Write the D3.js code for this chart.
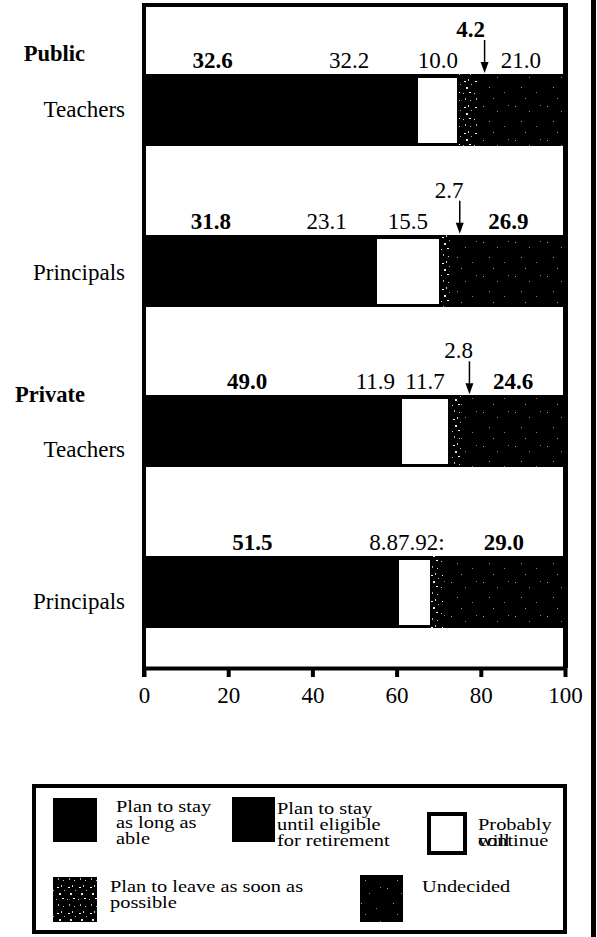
<!DOCTYPE html>
<html>
<head>
<meta charset="utf-8">
<script src="https://cdn.jsdelivr.net/npm/d3@7"></script>
<style>
  html, body { margin: 0; padding: 0; background: #fff; }
  svg { display: block; }
  text { font-family: "Liberation Serif", "Times New Roman", serif; fill: #000; }
</style>
</head>
<body>
<svg id="chart" width="597" height="937"></svg>
<script>
// ---------------- DATA ----------------
const rowKeys = ["Public Teachers", "Public Principals", "Private Teachers", "Private Principals"];
const rowNames = ["Teachers", "Principals", "Teachers", "Principals"];
const groupNames = ["Public", "Private"];
const seriesNames = ["Plan to stay as long as able", "Plan to stay until eligible for retirement",
                     "Probably will continue", "Plan to leave as soon as possible", "Undecided"];
const stayAsLongAsAble    = [32.6, 31.8, 49.0, 51.5];
const stayUntilRetirement = [32.2, 23.1, 11.9, 8.8];
const probablyContinue    = [10.0, 15.5, 11.7, 7.9];
const leaveAsSoon         = [4.2, 2.7, 2.8, 2.8];
const undecided           = [21.0, 26.9, 24.6, 29.0];
const tickValues = [0, 20, 40, 60, 80, 100];
// printed label for the crowded middle segments of the last bar (as in the source)
const mergedLabels = [null, null, null, "8.87.92:"];

// ---------------- LAYOUT ----------------
const W = 597, H = 937;
const plot = { left: 144, right: 565, top: 5, axisY: 668 };
const barH = 72;
const rowLabelOffset = [7, 9, 26, 17];   // baseline offset from bar centre
const groupLabelY = [61, 402];
const fontMain = 23;

const svg = d3.select("#chart");

// patterns (sparse white specks on black, like the scanned shading)
const defs = svg.append("defs");
function speckle(id, dots, w, h) {
  const p = defs.append("pattern").attr("id", id).attr("patternUnits", "userSpaceOnUse")
    .attr("width", w).attr("height", h);
  p.append("rect").attr("width", w).attr("height", h).attr("fill", "#000");
  dots.forEach(d => p.append("rect").attr("x", d[0]).attr("y", d[1])
    .attr("width", d[2]).attr("height", d[3]).attr("fill", "#fff").attr("opacity", d[4] || 1));
}
speckle("leavePat", [[2,3,2,1],[6,1,1,2,0.8],[4,9,2,2,0.9],[9,6,1,1,0.7],[1,15,1,1,0.8],[7,14,2,1],[3,20,1,2,0.7],[8,22,1,1,0.8]], 11, 26);
speckle("undecPat", [[3,4,1,1,0.7],[17,9,1,1,0.55],[9,19,1,1,0.65],[24,24,1,1,0.5],[13,30,1,1,0.6],[28,3,1,1,0.5]], 32, 34);

const fills = ["#000", "#000", "#000", "url(#leavePat)", "url(#undecPat)"];

// table for stacking
const table = rowKeys.map((k, i) => ({
  key: k,
  s0: stayAsLongAsAble[i], s1: stayUntilRetirement[i], s2: probablyContinue[i],
  s3: leaveAsSoon[i], s4: undecided[i]
}));
const keys = ["s0", "s1", "s2", "s3", "s4"];
const stacked = d3.stack().keys(keys)(table);

const x = d3.scaleLinear().domain([0, 100]).range([plot.left, plot.right]);
const yc = d3.scalePoint().domain(rowKeys).range([110, 592]);
const barTop = k => yc(k) - barH / 2;

// bars
const gBars = svg.append("g").attr("shape-rendering", "crispEdges");
stacked.forEach((layer, si) => {
  gBars.selectAll(null).data(layer).enter().append("rect")
    .attr("x", d => x(d[0]))
    .attr("y", d => barTop(d.data.key))
    .attr("width", d => x(d[1]) - x(d[0]) + (si < 4 ? 0.8 : 0))
    .attr("height", barH)
    .attr("fill", fills[si]);
  if (si === 2) {
    gBars.selectAll(null).data(layer).enter().append("rect")
      .attr("x", d => x(d[0]) + 1.5)
      .attr("y", d => barTop(d.data.key) + 4)
      .attr("width", d => x(d[1]) - x(d[0]) - 3)
      .attr("height", barH - 7)
      .attr("fill", "#fff");
  }
});

// frame
const frame = svg.append("g").attr("fill", "#000");
frame.append("rect").attr("x", plot.left - 2).attr("y", plot.top - 2).attr("width", 4).attr("height", plot.axisY - plot.top + 11);
frame.append("rect").attr("x", plot.left - 2).attr("y", plot.top - 2).attr("width", plot.right - plot.left + 4).attr("height", 4);
frame.append("rect").attr("x", plot.right - 2).attr("y", plot.top - 2).attr("width", 5).attr("height", plot.axisY - plot.top + 2);
// page edge line
svg.append("rect").attr("x", 591).attr("y", 0).attr("width", 5).attr("height", H).attr("fill", "#000");

// axis
const axis = d3.axisBottom(x).tickValues(tickValues).tickSize(9).tickSizeOuter(0).tickFormat(d3.format("d"));
const gAxis = svg.append("g").attr("transform", `translate(0,${plot.axisY})`).call(axis);
gAxis.select(".domain").attr("stroke", "#000").attr("stroke-width", 4);
gAxis.selectAll(".tick line").attr("stroke", "#000").attr("stroke-width", 4);
gAxis.selectAll(".tick text").attr("y", 35).attr("dy", null)
  .attr("font-size", fontMain).attr("font-family", "Liberation Serif").attr("fill", "#000");

// value labels
const gLab = svg.append("g").attr("font-size", fontMain).attr("text-anchor", "middle");
const fmt = d3.format(".1f");
stacked.forEach((layer, si) => {
  layer.forEach((d, ri) => {
    const t = barTop(d.data.key);
    const cx = x((d[0] + d[1]) / 2);
    if (si === 3) {
      if (mergedLabels[ri]) return;
      const ax = x(d[1]) + 8;
      gLab.append("text").attr("x", cx + 3).attr("y", t - 37).text(fmt(d[1] - d[0]))
        .attr("font-weight", ri === 0 ? "bold" : "normal");
      gLab.append("line").attr("x1", ax).attr("x2", ax).attr("y1", t - 34).attr("y2", t - 8)
        .attr("stroke", "#000").attr("stroke-width", 1.5);
      gLab.append("path").attr("d", `M${ax - 4},${t - 12}L${ax + 4},${t - 12}L${ax},${t - 1}Z`).attr("fill", "#000");
      return;
    }
    if ((si === 1 || si === 2) && mergedLabels[ri]) return;
    const bold = si === 0 || (si === 4 && ri > 0);
    gLab.append("text").attr("x", cx).attr("y", t - 6).text(fmt(d[1] - d[0]))
      .attr("font-weight", bold ? "bold" : "normal");
  });
});
mergedLabels.forEach((m, ri) => {
  if (!m) return;
  const k = rowKeys[ri];
  const a = stacked[1][ri][0], b = stacked[3][ri][1];
  gLab.append("text").attr("x", x((a + b) / 2) + 5).attr("y", barTop(k) - 6).text(m);
});

// row labels
const gRow = svg.append("g").attr("font-size", fontMain);
rowKeys.forEach((k, i) => {
  gRow.append("text").attr("x", 125).attr("y", yc(k) + rowLabelOffset[i]).attr("text-anchor", "end").text(rowNames[i]);
});
groupNames.forEach((g, i) => {
  gRow.append("text").attr("x", 85).attr("y", groupLabelY[i]).attr("text-anchor", "end")
    .attr("font-weight", "bold").attr("font-size", 22.5).text(g);
});

// legend
const leg = svg.append("g");
leg.append("rect").attr("x", 34).attr("y", 786).attr("width", 531).attr("height", 146)
  .attr("fill", "none").attr("stroke", "#000").attr("stroke-width", 4);
const legendLayout = [
  { sx: 53, sy: 798, sw: 44, sh: 44, tx: 116, ty: 812, lines: ["Plan to stay", "as long as", "able"] },
  { sx: 232, sy: 797, sw: 43, sh: 45, tx: 277, ty: 814, lines: ["Plan to stay", "until eligible", "for retirement"] },
  { sx: 429, sy: 814, sw: 36, sh: 39, tx: 478, ty: 830, lines: ["Probably", "continue"] },
  { sx: 53, sy: 877, sw: 44, sh: 45, tx: 110, ty: 892, lines: ["Plan to leave as soon as", "possible"] },
  { sx: 360, sy: 875, sw: 43, sh: 47, tx: 422, ty: 892, lines: ["Undecided"] }
];
const legFont = 17, legSX = 1.2, lineGap = 16;
seriesNames.forEach((name, i) => {
  const L = legendLayout[i];
  if (i === 2) {
    leg.append("rect").attr("x", L.sx).attr("y", L.sy).attr("width", L.sw).attr("height", L.sh)
      .attr("fill", "#fff").attr("stroke", "#000").attr("stroke-width", 4);
  } else {
    leg.append("rect").attr("x", L.sx).attr("y", L.sy).attr("width", L.sw).attr("height", L.sh).attr("fill", fills[i]);
  }
  const g = leg.append("g").attr("transform", `translate(${L.tx},${L.ty}) scale(${legSX},1)`);
  const t = g.append("text").attr("font-size", legFont);
  L.lines.forEach((ln, j) => t.append("tspan").attr("x", 0).attr("y", j * lineGap).text(ln));
  if (i === 2) {
    // "will" overprinted on "continue" as in the source
    g.append("text").attr("font-size", legFont).attr("x", 0).attr("y", lineGap).text("will");
  }
});
</script>
</body>
</html>
